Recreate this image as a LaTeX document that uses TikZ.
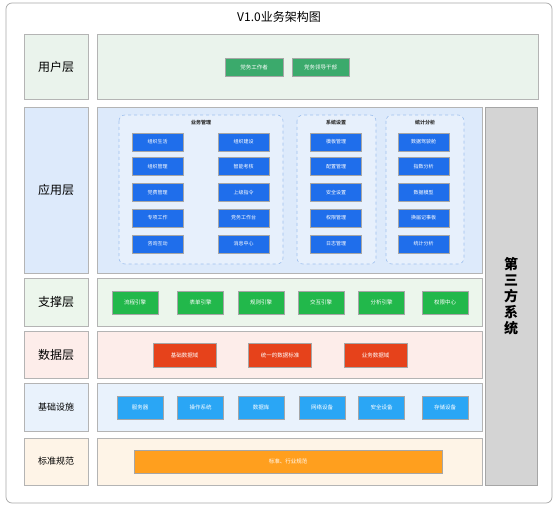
\documentclass[tikz,border=0pt]{standalone}
\usepackage{fontspec}
\setmainfont{Noto Sans CJK SC}
\usepackage{tikz}

\definecolor{framegray}{HTML}{A8A8A8}
\definecolor{edgegray}{HTML}{B4B4B4}
\definecolor{userbg}{HTML}{EAF3EC}
\definecolor{appbg}{HTML}{DDEAFB}
\definecolor{supbg}{HTML}{ECF6EC}
\definecolor{databg}{HTML}{FDEDEA}
\definecolor{infbg}{HTML}{E9F2FC}
\definecolor{stdbg}{HTML}{FEF4E7}
\definecolor{thirdbg}{HTML}{D4D4D4}
\definecolor{usergreen}{HTML}{3BAA6C}
\definecolor{appblue}{HTML}{1F6EEB}
\definecolor{supgreen}{HTML}{22B84B}
\definecolor{datared}{HTML}{E6421B}
\definecolor{infblue}{HTML}{2AA6F5}
\definecolor{stdorange}{HTML}{FF9F1E}
\definecolor{dashblue}{HTML}{9FC0EE}

\begin{document}
\begin{tikzpicture}[x=1pt,y=-1pt]
		\tikzstyle{every node}+=[inner sep=0pt]
		\tikzstyle{layer}=[draw=edgegray, line width=0.9pt]
		\tikzstyle{btn}=[draw=black!35, line width=0.5pt, text=white, font=\fontsize{5.5}{6}\selectfont]
		\tikzstyle{appbtn}=[btn, fill=appblue, minimum width=51pt, minimum height=18pt, font=\fontsize{5}{6}\selectfont]
		\tikzstyle{group}=[draw=dashblue, dashed, line width=0.6pt, rounded corners=6pt, fill=appbg!70!white]
		\tikzstyle{grouptitle}=[font=\bfseries\fontsize{5}{6}\selectfont, text=black!80]
		\useasboundingbox (0,0) rectangle (554,505);
		\draw [framegray, line width=0.7pt, rounded corners=6pt, fill=white] (6,3) rectangle (552,503);
		\node (title) at (279,17) {\fontsize{12}{14}\selectfont V1.0业务架构图};
		% user layer
		\node [layer, fill=userbg, minimum width=64pt, minimum height=65pt, font=\fontsize{12}{14}\selectfont] (userlbl) at (56,66.5) {用户层};
		\node [layer, fill=userbg, minimum width=441pt, minimum height=65pt] (userbox) at (317.5,66.5) {};
		\node [btn, fill=usergreen, minimum width=58pt, minimum height=18pt] (worker) at (254,67) {党务工作者};
		\node [btn, fill=usergreen, minimum width=57pt, minimum height=18pt] (leader) at (320.5,67) {党务领导干部};
		% application layer
		\node [layer, fill=appbg, minimum width=64pt, minimum height=166pt, font=\fontsize{12}{14}\selectfont] (applbl) at (56,190) {应用层};
		\node [layer, fill=appbg, minimum width=385pt, minimum height=166pt] (appbox) at (289.5,190) {};
		\draw [group] (119,115) rectangle (283,264);
		\draw [group] (297,115) rectangle (376,264);
		\draw [group] (386,115) rectangle (464,264);
		\node [grouptitle] (bizt) at (201,123) {业务管理};
		\node [grouptitle] (syst) at (336,123) {系统设置};
		\node [grouptitle] (statt) at (425,123) {统计分析};
		\node [appbtn] (b11) at (157.5,142) {组织生活};
		\node [appbtn] (b12) at (157.5,166.5) {组织管理};
		\node [appbtn] (b13) at (157.5,192.5) {党费管理};
		\node [appbtn] (b14) at (157.5,218) {专项工作};
		\node [appbtn] (b15) at (157.5,244) {咨询互动};
		\node [appbtn] (b21) at (243.5,142) {组织建设};
		\node [appbtn] (b22) at (243.5,166.5) {智能考核};
		\node [appbtn] (b23) at (243.5,192.5) {上级指令};
		\node [appbtn] (b24) at (243.5,218) {党务工作台};
		\node [appbtn] (b25) at (243.5,244) {消息中心};
		\node [appbtn] (s1) at (336,142) {模板管理};
		\node [appbtn] (s2) at (336,166.5) {配置管理};
		\node [appbtn] (s3) at (336,192.5) {安全设置};
		\node [appbtn] (s4) at (336,218) {权限管理};
		\node [appbtn] (s5) at (336,244) {日志管理};
		\node [appbtn] (t1) at (423.5,142) {数据驾驶舱};
		\node [appbtn] (t2) at (423.5,166.5) {指数分析};
		\node [appbtn] (t3) at (423.5,192.5) {数据模型};
		\node [appbtn] (t4) at (423.5,218) {换届记事板};
		\node [appbtn] (t5) at (423.5,244) {统计分析};
		% support layer
		\node [layer, fill=supbg, minimum width=64pt, minimum height=48pt, font=\fontsize{12}{14}\selectfont] (suplbl) at (56,302) {支撑层};
		\node [layer, fill=supbg, minimum width=385pt, minimum height=48pt] (supbox) at (289.5,302) {};
		\tikzstyle{supbtn}=[btn, fill=supgreen, minimum width=46pt, minimum height=23pt]
		\node [supbtn] (flow) at (135,302.5) {流程引擎};
		\node [supbtn] (form) at (200.5,302.5) {表单引擎};
		\node [supbtn] (rule) at (261,302.5) {规则引擎};
		\node [supbtn] (inter) at (321,302.5) {交互引擎};
		\node [supbtn] (anal) at (381.5,302.5) {分析引擎};
		\node [supbtn] (perm) at (445,302.5) {权限中心};
		% data layer
		\node [layer, fill=databg, minimum width=64pt, minimum height=47pt, font=\fontsize{12}{14}\selectfont] (datalbl) at (56,354.5) {数据层};
		\node [layer, fill=databg, minimum width=385pt, minimum height=47pt] (databox) at (289.5,354.5) {};
		\tikzstyle{databtn}=[btn, fill=datared, minimum width=63pt, minimum height=24pt]
		\node [databtn] (basedom) at (184.5,355) {基础数据域};
		\node [databtn] (unistd) at (280,355) {统一的数据标准};
		\node [databtn] (bizdom) at (375.5,355) {业务数据域};
		% infrastructure layer
		\node [layer, fill=infbg, minimum width=64pt, minimum height=48pt, font=\fontsize{9}{11}\selectfont] (inflbl) at (56,407) {基础设施};
		\node [layer, fill=infbg, minimum width=385pt, minimum height=48pt] (infbox) at (289.5,407) {};
		\tikzstyle{infbtn}=[btn, fill=infblue, minimum width=46pt, minimum height=23pt]
		\node [infbtn] (server) at (140,407.5) {服务器};
		\node [infbtn] (os) at (200.5,407.5) {操作系统};
		\node [infbtn] (db) at (261,407.5) {数据库};
		\node [infbtn] (net) at (322,407.5) {网络设备};
		\node [infbtn] (sec) at (381.5,407.5) {安全设备};
		\node [infbtn] (store) at (445,407.5) {存储设备};
		% standard layer
		\node [layer, fill=stdbg, minimum width=64pt, minimum height=47pt, font=\fontsize{9}{11}\selectfont] (stdlbl) at (56,461.5) {标准规范};
		\node [layer, fill=stdbg, minimum width=385pt, minimum height=47pt] (stdbox) at (289.5,461.5) {};
		\node [btn, fill=stdorange, minimum width=308pt, minimum height=23pt] (norm) at (288,461.5) {标准、行业规范};
		% third party
		\node [layer, fill=thirdbg, draw=black!35, minimum width=52pt, minimum height=378pt] (third) at (511,296) {};
		\node [align=center, font=\bfseries\fontsize{14}{16}\selectfont] (thirdt) at (511,296) {第\\三\\方\\系\\统};
		\end{tikzpicture}
\end{document}
